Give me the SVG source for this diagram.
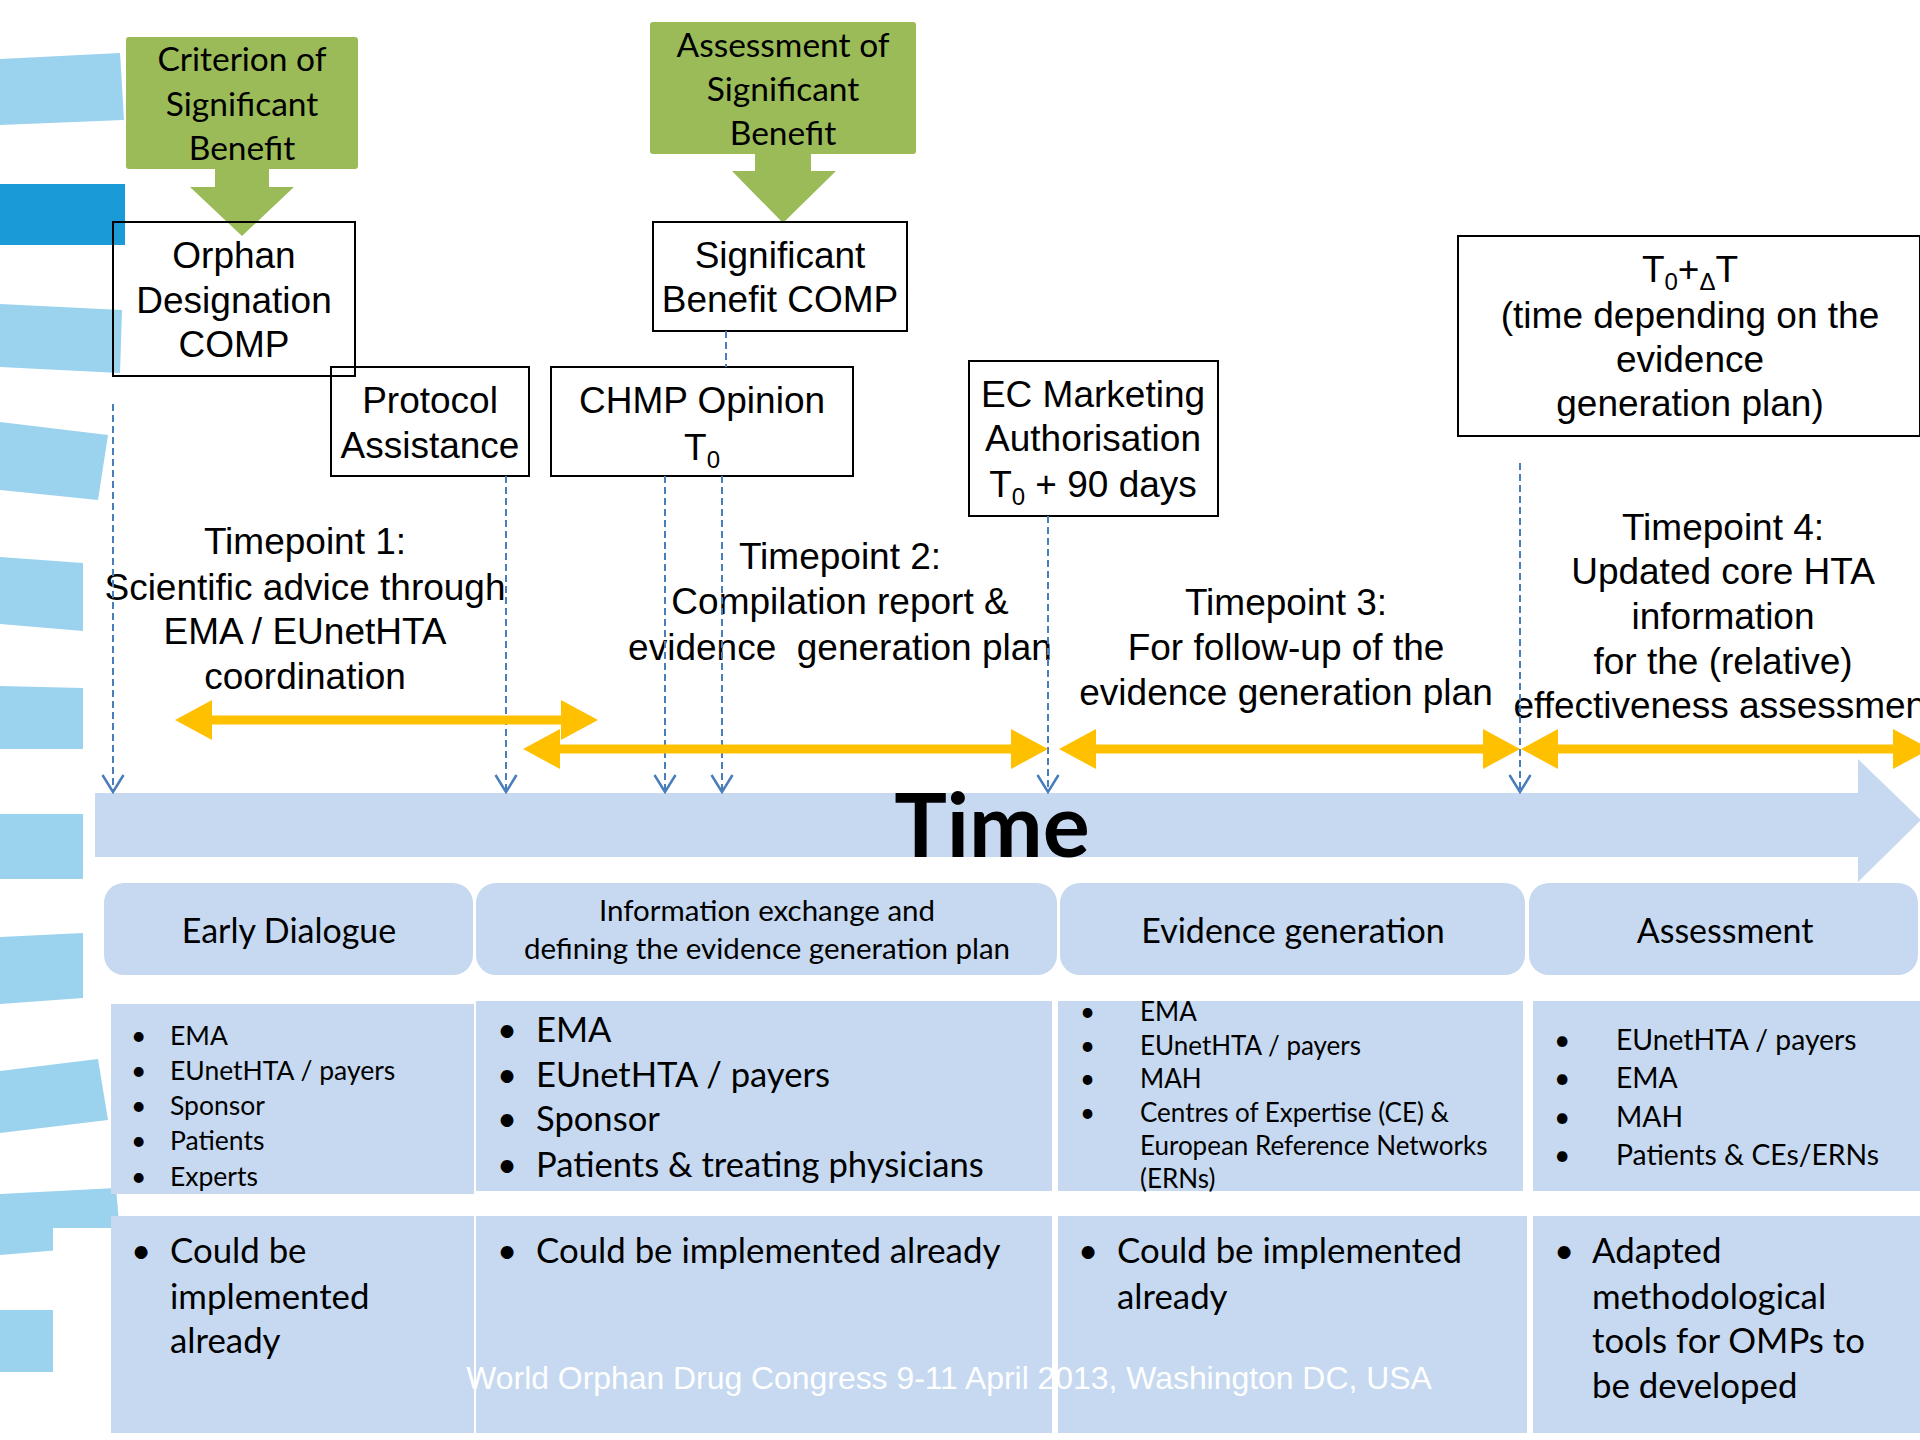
<svg xmlns="http://www.w3.org/2000/svg" width="1920" height="1440" viewBox="0 0 1920 1440">
<style>
.strip{fill:#9BD3EE}
.green{fill:#9BBB59}
.gt{font-family:Lato,"Open Sans",sans-serif;font-size:33.5px;fill:#000;text-anchor:middle}
.box{fill:none;stroke:#000;stroke-width:2}
.bt{font-family:"Liberation Sans",Arial,sans-serif;font-size:37px;fill:#000;text-anchor:middle}
.sub{font-size:24px}
.dash{fill:none;stroke:#4A7EBB;stroke-width:2;stroke-dasharray:7,4;marker-end:url(#vee)}
.dash2{fill:none;stroke:#4A7EBB;stroke-width:2;stroke-dasharray:7,4}
.yel{stroke:#FFC000;stroke-width:9;fill:none}
.yh{fill:#FFC000}
.tb{fill:#C6D9F0}
.ph{font-family:Lato,"Open Sans",sans-serif;fill:#000;text-anchor:middle}
.li{font-family:Lato,"Open Sans",sans-serif;fill:#000}
.foot{font-family:"Liberation Sans",Arial,sans-serif;font-size:31.9px;fill:#fff;text-anchor:middle}
</style>
<defs>
<marker id="vee" viewBox="0 0 24 20" refX="12" refY="18" markerWidth="24" markerHeight="20" markerUnits="userSpaceOnUse" orient="0">
<path d="M1.5,1 L12,18 L22.5,1" fill="none" stroke="#4A7EBB" stroke-width="2.5"/>
</marker>
</defs>
<rect width="1920" height="1440" fill="#fff"/>

<g id="decor">
<polygon class="strip" points="0,59 120,53 124,120 0,125"/>
<polygon points="0,184 125,184 125,245 0,245" fill="#1A9AD6"/>
<polygon class="strip" points="0,304 122,310 120,373 0,367"/>
<polygon class="strip" points="0,422 108,435 98,500 0,490"/>
<polygon class="strip" points="0,557 83,563 83,631 0,624"/>
<polygon class="strip" points="0,686 83,688 83,749 0,749"/>
<polygon class="strip" points="0,814 83,814 83,879 0,879"/>
<polygon class="strip" points="0,937 83,933 83,998 0,1004"/>
<polygon class="strip" points="0,1071 98,1059 108,1120 0,1133"/>
<polygon class="strip" points="0,1194 116,1188 121,1245 0,1255"/>
<rect x="53" y="1228" width="58" height="212" fill="#fff"/>
<polygon class="strip" points="0,1310 53,1310 53,1372 0,1372"/>
</g>

<g id="time-arrow">
<polygon class="tb" points="95,793 1858,793 1858,759 1921,820 1858,882 1858,857 95,857"/>
<text x="992" y="857" font-family="Lato,'Open Sans',sans-serif" font-weight="bold" font-size="88" text-anchor="middle" fill="#000">Time</text>
</g>

<g id="criterion">
<rect class="green" x="126" y="37" width="232" height="132" rx="3"/>
<polygon class="green" points="215,168 269,168 269,187 294,187 242,236 190,187 215,187"/>
<text class="gt" x="242" y="71">Criterion of</text>
<text class="gt" x="242" y="116">Significant</text>
<text class="gt" x="242" y="160">Benefit</text>
</g>

<g id="assessment-sb">
<rect class="green" x="650" y="22" width="266" height="132" rx="3"/>
<polygon class="green" points="755,153 811,153 811,171 836,171 783,223 732,171 755,171"/>
<text class="gt" x="783" y="57">Assessment of</text>
<text class="gt" x="783" y="101">Significant</text>
<text class="gt" x="783" y="145">Benefit</text>
</g>

<g id="orphan">
<rect class="box" x="113" y="222" width="242" height="154"/>
<text class="bt" x="234" y="268">Orphan</text>
<text class="bt" x="234" y="313">Designation</text>
<text class="bt" x="234" y="357">COMP</text>
</g>

<g id="protocol">
<rect class="box" x="331" y="367" width="198" height="109"/>
<text class="bt" x="430" y="413">Protocol</text>
<text class="bt" x="430" y="458">Assistance</text>
</g>

<g id="sbcomp">
<rect class="box" x="653" y="222" width="254" height="109"/>
<text class="bt" x="780" y="268">Significant</text>
<text class="bt" x="780" y="312">Benefit COMP</text>
</g>

<g id="chmp">
<rect class="box" x="551" y="367" width="302" height="109"/>
<text class="bt" x="702" y="413">CHMP Opinion</text>
<text class="bt" x="702" y="460">T<tspan class="sub" dy="8">0</tspan></text>
</g>

<g id="ec">
<rect class="box" x="969" y="361" width="249" height="155"/>
<text class="bt" x="1093" y="407">EC Marketing</text>
<text class="bt" x="1093" y="451">Authorisation</text>
<text class="bt" x="1093" y="497">T<tspan class="sub" dy="8">0</tspan><tspan dy="-8"> + 90 days</tspan></text>
</g>

<g id="t0dt">
<rect class="box" x="1458" y="236" width="462" height="200"/>
<text class="bt" x="1690" y="282">T<tspan class="sub" dy="8">0</tspan><tspan dy="-8">+</tspan><tspan class="sub" dy="8">Δ</tspan><tspan dy="-8">T</tspan></text>
<text class="bt" x="1690" y="328">(time depending on the</text>
<text class="bt" x="1690" y="372">evidence</text>
<text class="bt" x="1690" y="416">generation plan)</text>
</g>

<g id="tp1">
<text class="bt" x="305" y="554">Timepoint 1:</text>
<text class="bt" x="305" y="600">Scientific advice through</text>
<text class="bt" x="305" y="644">EMA / EUnetHTA</text>
<text class="bt" x="305" y="689">coordination</text>
</g>
<g id="tp2">
<text class="bt" x="840" y="569">Timepoint 2:</text>
<text class="bt" x="840" y="614">Compilation report &amp;</text>
<text class="bt" x="840" y="660" xml:space="preserve">evidence  generation plan</text>
</g>
<g id="tp3">
<text class="bt" x="1286" y="615">Timepoint 3:</text>
<text class="bt" x="1286" y="660">For follow-up of the</text>
<text class="bt" x="1286" y="705">evidence generation plan</text>
</g>
<g id="tp4">
<text class="bt" x="1723" y="540">Timepoint 4:</text>
<text class="bt" x="1723" y="584">Updated core HTA</text>
<text class="bt" x="1723" y="629">information</text>
<text class="bt" x="1723" y="674">for the (relative)</text>
<text class="bt" x="1725" y="718">effectiveness assessment</text>
</g>

<g id="connectors">
<line class="dash2" x1="726" y1="331" x2="726" y2="367"/>
<line class="dash" x1="113" y1="404" x2="113" y2="792"/>
<line class="dash" x1="506" y1="476" x2="506" y2="792"/>
<line class="dash" x1="665" y1="476" x2="665" y2="792"/>
<line class="dash" x1="722" y1="476" x2="722" y2="792"/>
<line class="dash" x1="1048" y1="516" x2="1048" y2="792"/>
<line class="dash" x1="1520" y1="463" x2="1520" y2="792"/>

<line class="yel" x1="205" y1="720" x2="568" y2="720"/>
<polygon class="yh" points="175,720 212,700 212,740"/>
<polygon class="yh" points="598,720 561,700 561,740"/>

<line class="yel" x1="553" y1="749" x2="1018" y2="749"/>
<polygon class="yh" points="523,749 560,729 560,769"/>
<polygon class="yh" points="1048,749 1011,729 1011,769"/>

<line class="yel" x1="1089" y1="749" x2="1488" y2="749"/>
<polygon class="yh" points="1059,749 1096,729 1096,769"/>
<polygon class="yh" points="1520,749 1483,729 1483,769"/>

<line class="yel" x1="1552" y1="749" x2="1900" y2="749"/>
<polygon class="yh" points="1521,749 1558,729 1558,769"/>
<polygon class="yh" points="1930,749 1893,729 1893,769"/>
</g>

<g id="phase-early">
<rect class="tb" x="104" y="883" width="369" height="92" rx="20"/>
<text class="ph" x="289" y="943" font-size="34">Early Dialogue</text>
</g>
<g id="phase-info">
<rect class="tb" x="476" y="883" width="581" height="92" rx="20"/>
<text class="ph" x="767" y="921" font-size="29.5">Information exchange and</text>
<text class="ph" x="767" y="959" font-size="29.5">defining the evidence generation plan</text>
</g>
<g id="phase-evidence">
<rect class="tb" x="1060" y="883" width="465" height="92" rx="20"/>
<text class="ph" x="1293" y="943" font-size="34">Evidence generation</text>
</g>
<g id="phase-assessment">
<rect class="tb" x="1529" y="883" width="389" height="92" rx="20"/>
<text class="ph" x="1725" y="943" font-size="34">Assessment</text>
</g>

<g id="actors-early">
<rect class="tb" x="111" y="1004" width="363" height="190"/>
<g class="li" font-size="26.5">
<text x="131" y="1045">•</text><text x="170" y="1045">EMA</text>
<text x="131" y="1080">•</text><text x="170" y="1080">EUnetHTA / payers</text>
<text x="131" y="1115">•</text><text x="170" y="1115">Sponsor</text>
<text x="131" y="1150">•</text><text x="170" y="1150">Patients</text>
<text x="131" y="1186">•</text><text x="170" y="1186">Experts</text>
</g>
</g>
<g id="actors-info">
<rect class="tb" x="476" y="1001" width="576" height="190"/>
<g class="li" font-size="34.6">
<text x="497" y="1042">•</text><text x="536" y="1042">EMA</text>
<text x="497" y="1087">•</text><text x="536" y="1087">EUnetHTA / payers</text>
<text x="497" y="1131">•</text><text x="536" y="1131">Sponsor</text>
<text x="497" y="1177">•</text><text x="536" y="1177">Patients &amp; treating physicians</text>
</g>
</g>
<g id="actors-evidence">
<rect class="tb" x="1058" y="1001" width="465" height="190"/>
<g class="li" font-size="26">
<text x="1080" y="1021">•</text><text x="1140" y="1021">EMA</text>
<text x="1080" y="1055">•</text><text x="1140" y="1055">EUnetHTA / payers</text>
<text x="1080" y="1088">•</text><text x="1140" y="1088">MAH</text>
<text x="1080" y="1122">•</text><text x="1140" y="1122">Centres of Expertise (CE) &amp;</text>
<text x="1140" y="1155">European Reference Networks</text>
<text x="1140" y="1188">(ERNs)</text>
</g>
</g>
<g id="actors-assessment">
<rect class="tb" x="1533" y="1001" width="387" height="190"/>
<g class="li" font-size="28.3">
<text x="1554" y="1050">•</text><text x="1616" y="1050">EUnetHTA / payers</text>
<text x="1554" y="1088">•</text><text x="1616" y="1088">EMA</text>
<text x="1554" y="1127">•</text><text x="1616" y="1127">MAH</text>
<text x="1554" y="1165">•</text><text x="1616" y="1165">Patients &amp; CEs/ERNs</text>
</g>
</g>

<g id="status-early">
<rect class="tb" x="111" y="1216" width="363" height="217"/>
<g class="li" font-size="34.8">
<text x="131" y="1263">•</text><text x="170" y="1263">Could be</text>
<text x="170" y="1309">implemented</text>
<text x="170" y="1353">already</text>
</g>
</g>
<g id="status-info">
<rect class="tb" x="476" y="1216" width="576" height="217"/>
<g class="li" font-size="34.8">
<text x="497" y="1263">•</text><text x="536" y="1263">Could be implemented already</text>
</g>
</g>
<g id="status-evidence">
<rect class="tb" x="1058" y="1216" width="469" height="217"/>
<g class="li" font-size="34.8">
<text x="1078" y="1263">•</text><text x="1117" y="1263">Could be implemented</text>
<text x="1117" y="1309">already</text>
</g>
</g>
<g id="status-assessment">
<rect class="tb" x="1533" y="1216" width="387" height="217"/>
<g class="li" font-size="34.8">
<text x="1554" y="1263">•</text><text x="1592" y="1263">Adapted</text>
<text x="1592" y="1309">methodological</text>
<text x="1592" y="1353">tools for OMPs to</text>
<text x="1592" y="1398">be developed</text>
</g>
</g>

<text class="foot" x="949" y="1389">World Orphan Drug Congress 9-11 April 2013, Washington DC, USA</text>
</svg>
